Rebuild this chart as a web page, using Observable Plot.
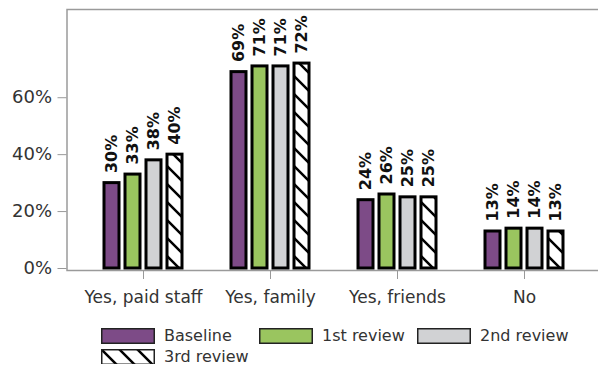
<!DOCTYPE html>
<html><head><meta charset="utf-8">
<script src="https://cdn.jsdelivr.net/npm/d3@7"></script>
<script src="https://cdn.jsdelivr.net/npm/@observablehq/plot@0.6"></script>
<style>
body{margin:0;background:#fff;font-family:"DejaVu Sans",sans-serif;}
#chart > svg{display:block}
.legend{display:grid;grid-template-columns:repeat(3,158px);row-gap:6px;padding-left:101px;margin-top:10px;}
.item{display:flex;align-items:center;gap:9px;height:15px;font-size:16px;color:#333;line-height:15px;white-space:nowrap}
.item svg{display:block;flex:none}
</style></head><body>
<svg width="0" height="0" style="position:absolute">
  <defs>
    <pattern id="hatch" patternUnits="userSpaceOnUse" width="18" height="18">
      <rect width="18" height="18" fill="#fff"/>
      <path d="M0,0L18,18M-9,9L9,27M9,-9L27,9" stroke="#000" stroke-width="2.5"/>
    </pattern>
  </defs>
</svg>
<div id="chart"></div>
<div class="legend" id="legend"></div>
<script>
const categories = ["Yes, paid staff", "Yes, family", "Yes, friends", "No"];
const series = ["Baseline", "1st review", "2nd review", "3rd review"];
const baseline = [30, 69, 24, 13];
const review1 = [33, 71, 26, 14];
const review2 = [38, 71, 25, 14];
const review3 = [40, 72, 25, 13];
const yTicks = [0, 20, 40, 60];
const colors = ["#7D4B87", "#9AC55F", "#D1D2D4", "url(#hatch)"];

const valuesBySeries = [baseline, review1, review2, review3];
const data = categories.flatMap((c, i) => series.map((s, j) => ({category: c, series: s, value: valuesBySeries[j][i]})));

const plot = Plot.plot({
  width: 598, height: 318,
  marginLeft: 66, marginRight: -3.4, marginTop: 9, marginBottom: 48,
  style: {fontFamily: "DejaVu Sans, sans-serif", background: "white", color: "#333"},
  fx: {domain: categories, paddingInner: 0.3725, paddingOuter: 0.286, label: null},
  x: {domain: series, paddingInner: 0.308, paddingOuter: 0, axis: null},
  y: {domain: [0, 91], insetBottom: 2, axis: null},
  color: {domain: series, range: colors},
  marks: [
    Plot.frame({stroke: "#9a9a9a", strokeWidth: 1.5, facet: "super", insetLeft: -36.5, insetRight: -40}),
    Plot.axisY({ticks: yTicks, tickFormat: d => d + "%", tickSize: 9, tickPadding: 6, fontSize: 18, stroke: "#999", fill: "#333", label: null, dx: -36.5}),
    Plot.axisFx({anchor: "bottom", tickSize: 9, tickPadding: 11, fontSize: 17, stroke: "#999", fill: "#333", label: null}),
    Plot.barY(data, {fx: "category", x: "series", y: "value", fill: "series", stroke: "#000", strokeWidth: 3}),
    Plot.text(data, {fx: "category", x: "series", y: "value", text: d => d.value + "%", rotate: -90, textAnchor: "start", dy: -10, fontWeight: "bold", fontSize: 16, fill: "#111"})
  ]
});
document.getElementById("chart").appendChild(plot);

const legend = document.getElementById("legend");
series.forEach((s, j) => {
  const item = document.createElement("div");
  item.className = "item";
  item.innerHTML = `<svg width="54" height="16"><rect x="0.75" y="0.75" width="52.5" height="14.5" fill="${colors[j]}" stroke="#222" stroke-width="1.5"/></svg><span>${s}</span>`;
  legend.appendChild(item);
});
</script>
</body></html>
